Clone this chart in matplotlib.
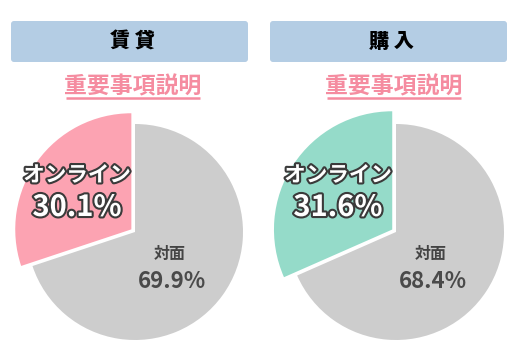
import numpy as np
import matplotlib
matplotlib.use("Agg")
import matplotlib.pyplot as plt
from matplotlib.patches import FancyBboxPatch
import matplotlib.patheffects as pe

plt.rcParams["font.family"] = ["Noto Sans CJK JP", "DejaVu Sans"]

# ---- data ----
panel_titles = ["賃 貸", "購 入"]
link_text = "重要事項説明"
categories = ["オンライン", "対面"]
rent_share = [30.1, 69.9]
buy_share = [31.6, 68.4]
shares = [rent_share, buy_share]

accent_colors = ["#fca3b2", "#95dbc9"]
gray = "#cdcdcd"
header_color = "#b4cde4"
link_color = "#f58ca0"

W, H = 515, 357
fig = plt.figure(figsize=(W / 100, H / 100), dpi=100)
ax = fig.add_axes([0, 0, 1, 1])

# layout in pixel units (y measured from top, flipped below)
panel_x = [135, 396]          # pie centres
box_x = [11, 270]
box_w, box_top, box_h = 237, 21, 41
pie_cy = 232
R = 108


def fy(y):
    return H - y


for i in range(2):
    cx = panel_x[i]
    vals = shares[i]

    # header box
    ax.add_patch(FancyBboxPatch((box_x[i], fy(box_top + box_h)), box_w, box_h,
                                boxstyle="round,pad=0,rounding_size=3",
                                fc=header_color, ec="none"))
    ax.text(box_x[i] + box_w / 2 + 3, fy(box_top + box_h / 2), panel_titles[i],
            ha="center", va="center", fontsize=14.5, fontweight="heavy", color="black")

    # underlined link
    lx = cx - 2
    ax.text(lx, fy(87), link_text, ha="center", va="center", fontsize=16.5,
            fontweight="bold", color=link_color)
    ax.plot([lx - 67, lx + 67], [fy(97.5), fy(97.5)], color=link_color, lw=1.8,
            solid_capstyle="butt")

    # pie
    wedges, _ = ax.pie(vals, colors=[accent_colors[i], gray], startangle=90,
                       counterclock=True, explode=[4.5, 0], radius=R,
                       center=(cx, fy(pie_cy)), frame=True,
                       wedgeprops=dict(linewidth=0))
    wedges[0].set_radius(R * (1.075 + 0.02 * i))

    # labels
    stroke = [pe.withStroke(linewidth=3, foreground="#3a3a3a")]
    ax.text(cx - 58, fy(pie_cy - 57), categories[0], ha="center", va="center",
            fontsize=15.5, fontweight="bold", color="white", path_effects=stroke)
    ax.text(cx - 58, fy(pie_cy - 25), f"{vals[0]:.1f}%", ha="center", va="center",
            fontsize=21, fontweight="bold", color="white", path_effects=stroke)
    ax.text(cx + 35, fy(pie_cy + 22), categories[1], ha="center", va="center",
            fontsize=11.5, fontweight="bold", color="#444444")
    ax.text(cx + 37, fy(pie_cy + 49), f"{vals[1]:.1f}%", ha="center", va="center",
            fontsize=16, fontweight="bold", color="#4a4a4a")

ax.set_xlim(0, W)
ax.set_ylim(0, H)
ax.set_aspect("equal")
ax.axis("off")

fig.savefig("out.png", dpi=100)
